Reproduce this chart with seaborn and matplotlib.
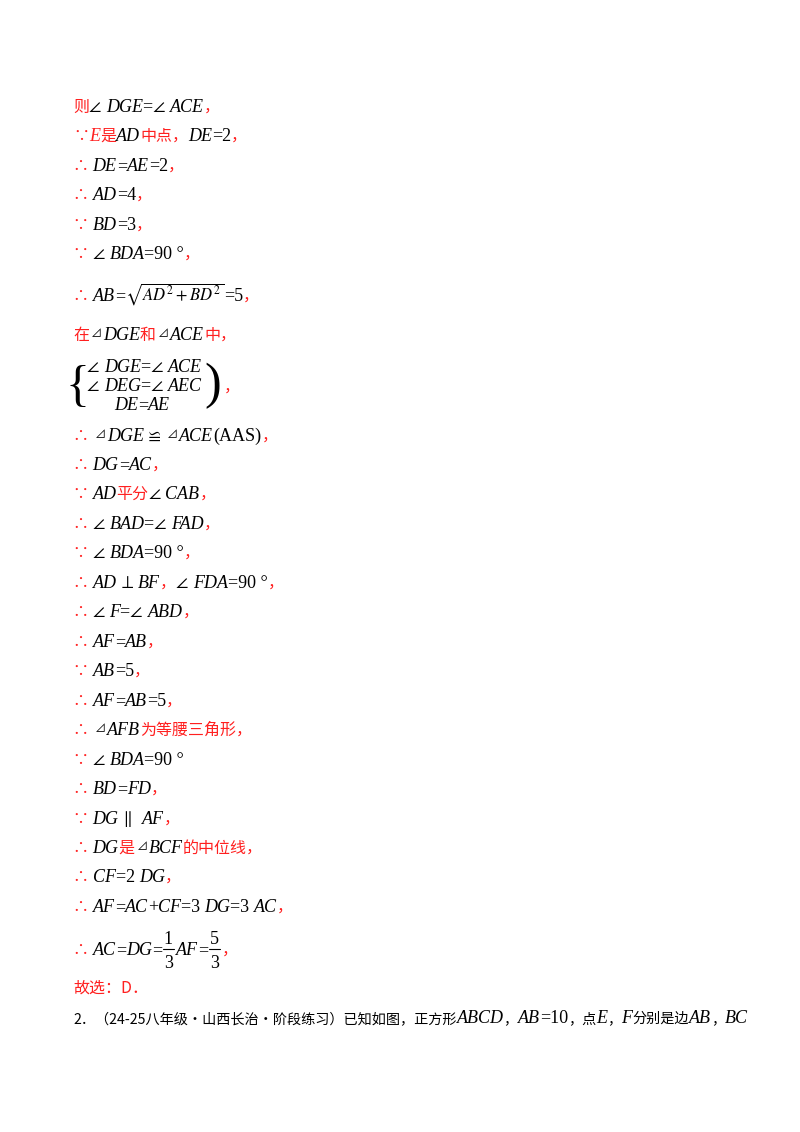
import seaborn as sns
import matplotlib.pyplot as plt

sns.set_theme(style="white")
plt.rcParams['mathtext.fontset'] = 'stix'

RED = '#ff2020'
CJK = ['Noto Sans CJK SC', 'STIXGeneral', 'DejaVu Sans']
SERIF = ['Liberation Serif', 'STIXGeneral', 'DejaVu Serif']

# each line: baseline y, list of (kind, text)
line_y = [112, 141, 171, 200, 230, 259, 301, 340, 441, 470, 499, 529, 558, 588,
          617, 647, 676, 706, 735, 765, 794, 824, 853, 882, 912, 955, 993, 1023]
lines = [
    [('r', '则'), ('n', '∠ '), ('m', 'DGE'), ('n', '=∠ '), ('m', 'ACE'), ('r', '，')],
    [('r', '∵'), ('mr', 'E'), ('r', '是'), ('m', 'AD'), ('r', '中点，'), ('m', 'DE'), ('n', '=2'), ('r', '，')],
    [('r', '∴ '), ('m', 'DE'), ('n', '='), ('m', 'AE'), ('n', '=2'), ('r', '，')],
    [('r', '∴ '), ('m', 'AD'), ('n', '=4'), ('r', '，')],
    [('r', '∵ '), ('m', 'BD'), ('n', '=3'), ('r', '，')],
    [('r', '∵ '), ('n', '∠ '), ('m', 'BDA'), ('n', '=90 °'), ('r', '，')],
    [('r', '∴ '), ('m', 'AB'), ('n', '='), ('x', r'$\sqrt{AD^2+BD^2}$'), ('n', '=5'), ('r', '，')],
    [('r', '在'), ('t', '⊿'), ('m', 'DGE'), ('r', '和'), ('t', '⊿'), ('m', 'ACE'), ('r', '中，')],
    [('r', '∴ '), ('t', '⊿'), ('m', 'DGE'), ('n', ' ≌ '), ('t', '⊿'), ('m', 'ACE'), ('n', '(AAS)'), ('r', '，')],
    [('r', '∴ '), ('m', 'DG'), ('n', '='), ('m', 'AC'), ('r', '，')],
    [('r', '∵ '), ('m', 'AD'), ('r', '平分'), ('n', '∠ '), ('m', 'CAB'), ('r', '，')],
    [('r', '∴ '), ('n', '∠ '), ('m', 'BAD'), ('n', '=∠ '), ('m', 'FAD'), ('r', '，')],
    [('r', '∵ '), ('n', '∠ '), ('m', 'BDA'), ('n', '=90 °'), ('r', '，')],
    [('r', '∴ '), ('m', 'AD'), ('n', ' ⊥ '), ('m', 'BF'), ('r', '，'), ('n', '∠ '), ('m', 'FDA'), ('n', '=90 °'), ('r', '，')],
    [('r', '∴ '), ('n', '∠ '), ('m', 'F'), ('n', '=∠ '), ('m', 'ABD'), ('r', '，')],
    [('r', '∴ '), ('m', 'AF'), ('n', '='), ('m', 'AB'), ('r', '，')],
    [('r', '∵ '), ('m', 'AB'), ('n', '=5'), ('r', '，')],
    [('r', '∴ '), ('m', 'AF'), ('n', '='), ('m', 'AB'), ('n', '=5'), ('r', '，')],
    [('r', '∴ '), ('t', '⊿'), ('m', 'AFB'), ('r', '为等腰三角形，')],
    [('r', '∵ '), ('n', '∠ '), ('m', 'BDA'), ('n', '=90 °')],
    [('r', '∴ '), ('m', 'BD'), ('n', '='), ('m', 'FD'), ('r', '，')],
    [('r', '∵ '), ('m', 'DG'), ('n', ' ∥  '), ('m', 'AF'), ('r', '，')],
    [('r', '∴ '), ('m', 'DG'), ('r', '是'), ('t', '⊿'), ('m', 'BCF'), ('r', '的中位线，')],
    [('r', '∴ '), ('m', 'CF'), ('n', '=2 '), ('m', 'DG'), ('r', '，')],
    [('r', '∴ '), ('m', 'AF'), ('n', '='), ('m', 'AC'), ('n', '+'), ('m', 'CF'), ('n', '=3 '),
     ('m', 'DG'), ('n', '=3 '), ('m', 'AC'), ('r', '，')],
    [('r', '∴ '), ('m', 'AC'), ('n', '='), ('m', 'DG'), ('n', '='), ('f', ('1', '3')), ('m', 'AF'),
     ('n', '='), ('f', ('5', '3')), ('r', '，')],
    [('r', '故选：D．')],
    [('k', '2．（24-25八年级·山西长治·阶段练习）已知如图，正方形'), ('m', 'ABCD'), ('k', '，'), ('m', 'AB'),
     ('n', '=10'), ('k', '，点'), ('m', 'E'), ('k', '，'), ('m', 'F'), ('k', '分别是边'), ('m', 'AB'),
     ('k', '，'), ('m', 'BC')],
]
system_y = [372, 391, 410]
system = [
    [('n', '∠ '), ('m', 'DGE'), ('n', '=∠ '), ('m', 'ACE')],
    [('n', '∠ '), ('m', 'DEG'), ('n', '=∠ '), ('m', 'AEC')],
    [('n', '      '), ('m', 'DE'), ('n', '='), ('m', 'AE')],
]

fig = plt.figure(figsize=(8, 11.32), dpi=100)
ax = fig.add_axes([0, 0, 1, 1])
ax.set_xlim(0, 800)
ax.set_ylim(1132, 0)
ax.axis('off')
renderer = fig.canvas.get_renderer()
FS = 13
FS_CJK = 11.5


def put(x, y, s, fs=FS, **kw):
    t = ax.text(x, y, s, va='baseline', ha='left', fontsize=fs, **kw)
    return t.get_window_extent(renderer).width


def draw(x, y, segs, cjk_fs=FS_CJK):
    for kind, s in segs:
        if kind == 'r':
            x += put(x, y, s, fs=cjk_fs, color=RED, family=CJK)
        elif kind == 'k':
            x += put(x, y, s, fs=cjk_fs, color='black', family=CJK)
        elif kind == 't':
            x += put(x + 2, y - 3, s, fs=8, color='black', family=CJK) + 3
        elif kind == 'm':
            x += put(x, y, s, color='black', family=SERIF, style='italic')
        elif kind == 'mr':
            x += put(x, y, s, color=RED, family=SERIF, style='italic')
        elif kind == 'n':
            x += put(x, y, s, color='black', family=SERIF)
        elif kind == 'x':
            x += put(x, y, s, fs=12, color='black')
        elif kind == 'f':
            num, den = s
            w = max(put(x + 2, y - 11, num, color='black', family=SERIF),
                    put(x + 2, y + 13, den, color='black', family=SERIF))
            ax.plot([x + 1, x + w + 3], [y - 6, y - 6], color='black', lw=0.8)
            x += w + 5
    return x


x0 = 73
for i, (y, segs) in enumerate(zip(line_y, lines)):
    draw(x0, y, segs, cjk_fs=10.2 if i == len(lines) - 1 else FS_CJK)

# brace system
ax.text(x0 - 8, 388, '{', fontsize=36, family=SERIF, color='black', va='center', ha='left')
xmax = 0
for y, segs in zip(system_y, system):
    xmax = max(xmax, draw(x0 + 14, y, segs))
ax.text(xmax + 2, 386, ')', fontsize=36, family=SERIF, color='black', va='center', ha='left')
put(xmax + 22, 392, '，', fs=FS_CJK, color=RED, family=CJK)

fig.savefig('out.png', dpi=100, facecolor='white')
